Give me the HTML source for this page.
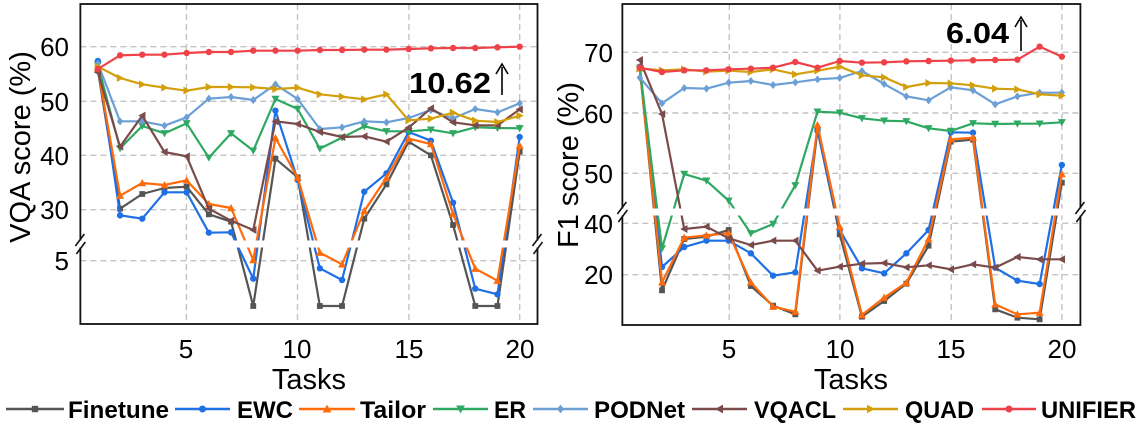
<!DOCTYPE html>
<html><head><meta charset="utf-8"><style>
html,body{margin:0;padding:0;background:#fff;}
svg{display:block;font-family:"Liberation Sans",Arial,sans-serif;}
</style></head><body>
<svg id="s" width="1142" height="427" viewBox="0 0 1142 427" xmlns="http://www.w3.org/2000/svg">
<rect width="1142" height="427" fill="#fff"/>
<g id="L"></g>
<g id="R"></g>
<g font-size="26" fill="#000" text-anchor="end">
<text x="69" y="56">60</text><text x="69" y="111">50</text><text x="69" y="165">40</text><text x="69" y="219">30</text><text x="69" y="270">5</text>
<text x="613" y="62">70</text><text x="613" y="123">60</text><text x="613" y="183">50</text><text x="613" y="233">40</text><text x="613" y="284">20</text>
</g>
<g font-size="26" fill="#000" text-anchor="middle">
<text x="186" y="358">5</text><text x="297" y="358">10</text><text x="409" y="358">15</text><text x="520" y="358">20</text>
<text x="729" y="358">5</text><text x="840" y="358">10</text><text x="951" y="358">15</text><text x="1062" y="358">20</text>
</g>
<g font-size="29" text-anchor="middle" fill="#000">
<text x="309" y="389">Tasks</text><text x="851" y="389">Tasks</text>
<text transform="translate(30,147) rotate(-90)">VQA score (%)</text>
<text transform="translate(578,165) rotate(-90)">F1 score (%)</text>
</g>
<g font-size="29" font-weight="bold" fill="#000">
<text x="409" y="93" textLength="82" lengthAdjust="spacingAndGlyphs">10.62</text>
<text x="946" y="43" textLength="63" lengthAdjust="spacingAndGlyphs">6.04</text>
</g>
<g stroke="#000" stroke-width="1.6" fill="none">
<line x1="502" y1="95" x2="502" y2="67"/><path d="M496,74 L502,64 L508,74"/>
<line x1="1021" y1="51" x2="1021" y2="20"/><path d="M1015,27 L1021,17 L1027,27"/>
</g>
<g id="LEG"></g>
</svg>
<script>
const NS="http://www.w3.org/2000/svg";
function el(p,t,a){const e=document.createElementNS(NS,t);for(const k in a)e.setAttribute(k,a[k]);p.appendChild(e);return e;}
const C={Finetune:"#555555",EWC:"#1f6fe5",Tailor:"#ff6a0a",ER:"#2fa862",PODNet:"#6b9fd6",VQACL:"#7b4b4b",QUAD:"#d3a00b",UNIFIER:"#ee4148"};
const M={Finetune:"sq",EWC:"ci",Tailor:"tu",ER:"td",PODNet:"di",VQACL:"tl",QUAD:"tr",UNIFIER:"ci"};
function marker(g,type,x,y,c,s){
 s=s||1;
 if(type=="ci")el(g,"circle",{cx:x,cy:y,r:3.2*s,fill:c});
 else if(type=="sq")el(g,"rect",{x:x-2.9*s,y:y-2.9*s,width:5.8*s,height:5.8*s,fill:c});
 else{let p;const r=4*s;
  if(type=="tu")p=[[x,y-r],[x+r,y+r*0.8],[x-r,y+r*0.8]];
  if(type=="td")p=[[x,y+r],[x+r,y-r*0.8],[x-r,y-r*0.8]];
  if(type=="tl")p=[[x-r,y],[x+r*0.8,y-r],[x+r*0.8,y+r]];
  if(type=="tr")p=[[x+r,y],[x-r*0.8,y-r],[x-r*0.8,y+r]];
  if(type=="di")p=[[x,y-r],[x+r*0.8,y],[x,y+r],[x-r*0.8,y]];
  el(g,"polygon",{points:p.map(q=>q.join(",")).join(" "),fill:c});}
}
const order=["Finetune","EWC","Tailor","ER","PODNet","VQACL","QUAD","UNIFIER"];
const LD={
UNIFIER:[207,166,164,164,159,156,156,152,152,152,150,150,149,149,147,145,144,144,142,140],
QUAD:[200,234,253,263,272,261,261,262,267,263,283,290,298,283,361,356,338,362,366,347],
PODNet:[190,364,364,377,352,296,291,300,253,297,387,382,364,367,354,330,355,327,337,310],
ER:[195,445,378,400,370,473,400,452,297,327,446,413,379,394,394,389,400,382,384,385],
VQACL:[217,440,347,456,469,626,662,690,364,372,396,411,409,425,383,325,367,376,376,328],
Finetune:[210,626,582,564,560,643,665,918,476,532,918,918,656,553,425,466,675,918,918,455],
EWC:[183,646,656,577,577,698,697,836,332,540,805,840,575,520,396,422,608,866,883,411],
Tailor:[205,587,549,555,541,612,624,780,414,533,758,793,633,533,416,432,642,806,842,437]};
const RD={
UNIFIER:[203,216,211,211,208,206,203,186,203,183,188,187,184,183,182,181,180,179,140,170],
QUAD:[205,211,208,215,212,216,208,223,212,200,226,232,261,249,250,256,266,268,283,287],
PODNet:[233,310,264,266,248,243,255,247,238,234,213,252,289,301,262,271,313,289,278,278],
ER:[205,745,522,542,602,700,672,556,335,338,355,362,364,385,393,370,372,371,371,367],
VQACL:[180,342,687,680,715,735,722,722,812,800,791,789,802,796,808,793,803,771,778,778],
Finetune:[205,871,717,710,690,858,917,943,390,703,950,903,851,737,425,419,928,953,958,548],
EWC:[200,801,741,722,722,760,827,817,390,690,805,820,760,690,397,398,803,842,852,495],
Tailor:[205,847,713,706,700,847,920,935,375,680,945,893,848,717,418,413,913,943,938,522]};
function panel(g,D,ox,kx,x0,dx,L,R,T,B,gy,vx,brk){
 const X=v=>ox+v/kx, Y=v=>v/3;
 L=X(L);R=X(R);T=Y(T);B=Y(B);brk=Y(brk);
 gy.forEach(y=>el(g,"line",{x1:L,x2:R,y1:Y(y),y2:Y(y),stroke:"#c4c4c4","stroke-width":1.4,"stroke-dasharray":"6,4"}));
 vx.forEach(x=>el(g,"line",{x1:X(x),x2:X(x),y1:T,y2:B,stroke:"#c4c4c4","stroke-width":1.4,"stroke-dasharray":"6,4"}));
 order.forEach(n=>{const pts=D[n].map((y,i)=>[X(x0+i*dx),Y(y)]);
  el(g,"polyline",{points:pts.map(p=>p.join(",")).join(" "),fill:"none",stroke:C[n],"stroke-width":2.2,"stroke-linejoin":"round"});
  pts.forEach(p=>marker(g,M[n],p[0],p[1],C[n]));});
 el(g,"rect",{x:L+1.5,y:brk-3.5,width:R-L-3,height:7,fill:"#fff"});
 el(g,"rect",{x:L,y:T,width:R-L,height:B-T,fill:"none",stroke:"#111","stroke-width":1.8});
 [L,R].forEach(x=>{const y=brk;el(g,"rect",{x:x-3,y:y-3.5,width:6,height:7,fill:"#fff"});
  el(g,"line",{x1:x-5,y1:y+2,x2:x+4,y2:y-10,stroke:"#111","stroke-width":1.6});
  el(g,"line",{x1:x-4,y1:y+10,x2:x+5,y2:y-2,stroke:"#111","stroke-width":1.6});});
}
panel(document.getElementById("L"),LD,0,2.8,274,62.16,225,1505,12,972,[140,304,466,629,782],[522,833,1145,1455],732);
panel(document.getElementById("R"),RD,560,2.694,215,59.84,168,1402,12,975,[157,339,520,670,824],[456,754,1054,1352],636);
const leg=document.getElementById("LEG");
const LE=[["Finetune",6,64,68,101],["EWC",175,230,237,56],["Tailor",299,355,360,66],["ER",433,488,494,32],["PODNet",533,588,594,91],["VQACL",692,747,754,82],["QUAD",843,898,905,69],["UNIFIER",982,1036,1041,95]];
LE.forEach(([n,a,b,t,w])=>{el(leg,"line",{x1:a,x2:b,y1:409,y2:409,stroke:C[n],"stroke-width":2.5});
 marker(leg,M[n],(a+b)/2,409,C[n],1.1);
 const tx=el(leg,"text",{x:t,y:418,"font-size":24,"font-weight":"bold",textLength:w,lengthAdjust:"spacingAndGlyphs",fill:"#000"});tx.textContent=n;});
</script>
</body></html>
